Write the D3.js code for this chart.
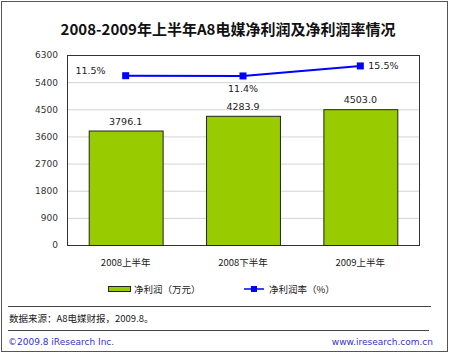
<!DOCTYPE html>
<html><head><meta charset="utf-8">
<script src="https://cdn.jsdelivr.net/npm/d3@7"></script>
<style>body{margin:0;background:#fff;}svg{display:block;font-family:"Noto Sans CJK SC","DejaVu Sans",sans-serif;}</style>
</head><body>
<script>
const categories = ["2008上半年", "2008下半年", "2009上半年"];
const profit = [3796.1, 4283.9, 4503.0];
const rate = [11.5, 11.4, 15.5];
const rateLabels = ["11.5%", "11.4%", "15.5%"];
const yTicks = [0, 900, 1800, 2700, 3600, 4500, 5400, 6300];

const W = 450, H = 354;
const svg = d3.select("body").append("svg").attr("width", W).attr("height", H);
svg.append("rect").attr("x", 1.5).attr("y", 1.5).attr("width", 446).attr("height", 350)
  .attr("fill", "#fff").attr("stroke", "#555").attr("stroke-width", 1);

const m = {l: 67, t: 55, r: 419, b: 245};
const x = d3.scaleBand().domain(categories).range([m.l, m.r]).paddingInner(0.37).paddingOuter(0.185);
const y = d3.scaleLinear().domain([0, 6300]).range([m.b, m.t]);
const y2 = d3.scaleLinear().domain([-58, 20]).range([m.b, m.t]);

svg.append("text").attr("x", 228).attr("y", 35).attr("text-anchor", "middle")
  .attr("font-size", 15).attr("font-weight", "bold").attr("fill", "#111")
  .text("2008-2009年上半年A8电媒净利润及净利润率情况");

// gridlines
svg.append("g").selectAll("line").data(yTicks.filter(d => d > 0 && d < 6300)).join("line")
  .attr("x1", m.l).attr("x2", m.r).attr("y1", d => y(d) + 0.5).attr("y2", d => y(d) + 0.5)
  .attr("stroke", "#d4d4d4").attr("stroke-width", 1);

// y axis labels
const ya = svg.append("g").attr("transform", `translate(${m.l - 9},0)`)
  .call(d3.axisLeft(y).tickValues(yTicks).tickFormat(d3.format("d")).tickSize(0).tickPadding(0));
ya.select(".domain").remove();
ya.selectAll("text").attr("font-size", 9).attr("fill", "#333").attr("font-family", "\"DejaVu Sans\",sans-serif");

// plot border
svg.append("rect").attr("x", m.l + 0.5).attr("y", m.t + 0.5).attr("width", m.r - m.l).attr("height", m.b - m.t)
  .attr("fill", "none").attr("stroke", "#333").attr("stroke-width", 1);

// bars
svg.append("g").selectAll("rect").data(profit).join("rect")
  .attr("x", (d, i) => x(categories[i]) + 0.5).attr("y", d => y(d) + 0.5)
  .attr("width", x.bandwidth()).attr("height", d => m.b - y(d))
  .attr("fill", "#99cc00").attr("stroke", "#222").attr("stroke-width", 1);

svg.append("g").selectAll("text").data(profit).join("text")
  .attr("x", (d, i) => x(categories[i]) + x.bandwidth() / 2).attr("y", d => y(d) - 6)
  .attr("text-anchor", "middle").attr("font-size", 9.5).attr("fill", "#222")
  .attr("font-family", "\"DejaVu Sans\",sans-serif")
  .text(d => d.toFixed(1));

// line
const cx = i => x(categories[i]) + x.bandwidth() / 2;
svg.append("path").datum(rate)
  .attr("d", d3.line().x((d, i) => cx(i)).y(d => y2(d)))
  .attr("fill", "none").attr("stroke", "#0000ff").attr("stroke-width", 2);
svg.append("g").selectAll("rect").data(rate).join("rect")
  .attr("x", (d, i) => cx(i) - 3.5).attr("y", d => y2(d) - 3.5).attr("width", 7).attr("height", 7)
  .attr("fill", "#0000ff");

const rOff = [[-20, -2, "end"], [0, 16, "middle"], [8, 3, "start"]];
svg.append("g").selectAll("text").data(rate).join("text")
  .attr("x", (d, i) => cx(i) + rOff[i][0]).attr("y", (d, i) => y2(d) + rOff[i][1])
  .attr("text-anchor", (d, i) => rOff[i][2]).attr("font-size", 9.5).attr("fill", "#222")
  .attr("font-family", "\"DejaVu Sans\",sans-serif")
  .text((d, i) => rateLabels[i]);

// x labels
svg.append("g").selectAll("text").data(categories).join("text")
  .attr("x", d => x(d) + x.bandwidth() / 2).attr("y", 266)
  .attr("text-anchor", "middle").attr("font-size", 9.5).attr("fill", "#222").text(d => d);

// legend
svg.append("rect").attr("x", 108.5).attr("y", 286.5).attr("width", 22).attr("height", 5)
  .attr("fill", "#99cc00").attr("stroke", "#222");
svg.append("text").attr("x", 134).attr("y", 293).attr("font-size", 9.5).attr("fill", "#222").text("净利润（万元）");
svg.append("line").attr("x1", 244).attr("x2", 264).attr("y1", 289).attr("y2", 289).attr("stroke", "#0000ff").attr("stroke-width", 1.5);
svg.append("rect").attr("x", 251).attr("y", 286).attr("width", 6).attr("height", 6).attr("fill", "#0000ff");
svg.append("text").attr("x", 269).attr("y", 293).attr("font-size", 9.5).attr("fill", "#222").text("净利润率（%）");

// separators
svg.append("line").attr("x1", 8).attr("x2", 431).attr("y1", 306.5).attr("y2", 306.5).attr("stroke", "#444");
svg.append("line").attr("x1", 8).attr("x2", 429).attr("y1", 330.5).attr("y2", 330.5).attr("stroke", "#444");
svg.append("text").attr("x", 9).attr("y", 322).attr("font-size", 9.5).attr("fill", "#222").text("数据来源：A8电媒财报，2009.8。");
svg.append("text").attr("x", 8).attr("y", 345).attr("font-size", 9).attr("fill", "#3333cc")
  .attr("font-family", "\"DejaVu Sans\",sans-serif").text("©2009.8 iResearch Inc.");
svg.append("text").attr("x", 433).attr("y", 345).attr("text-anchor", "end").attr("font-size", 9).attr("fill", "#3333cc")
  .attr("font-family", "\"DejaVu Sans\",sans-serif").text("www.iresearch.com.cn");
</script>
</body></html>
